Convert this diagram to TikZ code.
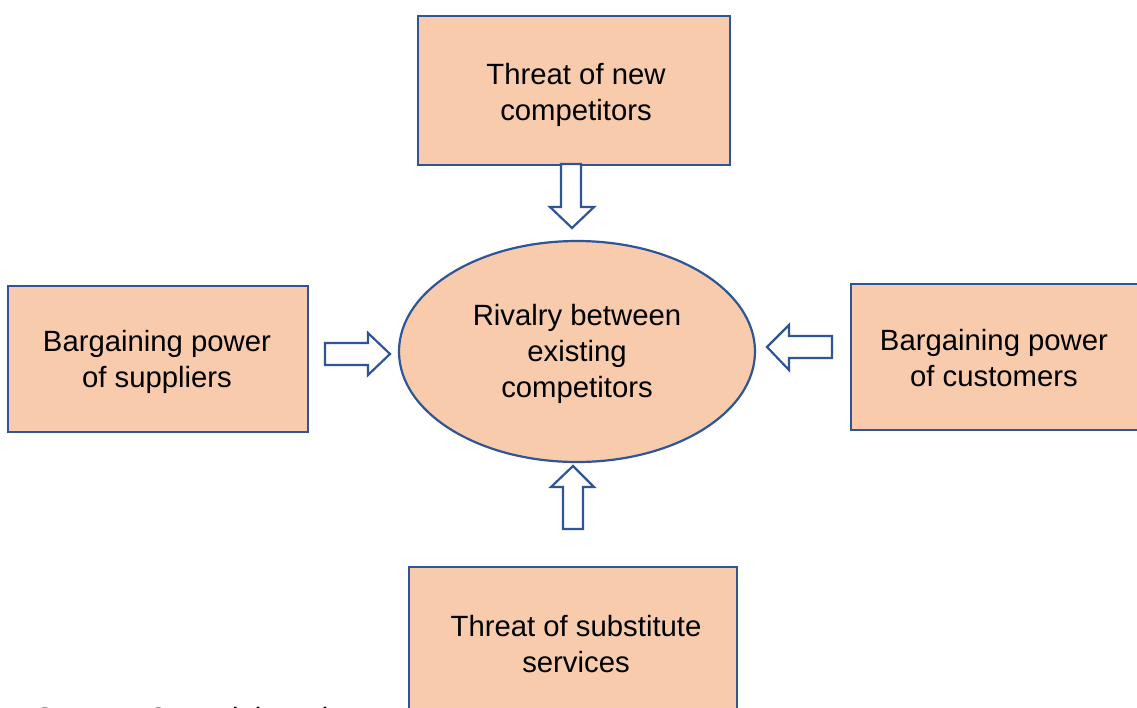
\documentclass[tikz,border=0pt]{standalone}
\usepackage{fontspec}
\setmainfont{Liberation Sans}
\usetikzlibrary{shapes.geometric}
\definecolor{forcefill}{HTML}{F8CBAD}
\definecolor{forceline}{HTML}{2F5597}
\tikzset{
  forcebox/.style={draw=forceline, fill=forcefill, line width=2.2pt, rectangle, inner sep=0pt},
  rivalry/.style={draw=forceline, fill=forcefill, line width=2.2pt, ellipse, inner sep=0pt},
  label/.style={align=center, font=\fontsize{29.3}{36}\selectfont, inner sep=0pt},
  blockarrow/.style={draw=forceline, fill=white, line width=2.2pt, line join=miter}
}
\begin{document}
\begin{tikzpicture}[x=1pt, y=-1pt]
  \useasboundingbox (0,0) rectangle (1137,707);
  \clip (0,0) rectangle (1137,707);
  \fill[white] (0,0) rectangle (1137,707);

  % the five forces
  \node[forcebox, minimum width=312pt, minimum height=149pt] (entrants) at (574,90.5) {};
  \node[forcebox, minimum width=300pt, minimum height=146pt] (suppliers) at (158,359) {};
  \node[forcebox, minimum width=300pt, minimum height=146pt] (customers) at (1001,357) {};
  \node[forcebox, minimum width=328pt, minimum height=170pt] (substitutes) at (573,652) {};
  \node[rivalry, minimum width=356pt, minimum height=221pt] (rivalry) at (577,351.5) {};

  % texts
  \node[label] (tEntrants) at (576,95) {Threat of new\\competitors};
  \node[label] (tSuppliers) at (157,362) {Bargaining power\\of suppliers};
  \node[label] (tCustomers) at (994,358) {Bargaining power\\of customers};
  \node[label] (tSubstitutes) at (576,644) {Threat of substitute\\services};
  \node[label] (tRivalry) at (577,354) {Rivalry between\\existing\\competitors};

  % block arrows pointing at the rivalry
  \draw[blockarrow] (561,164) -- (581,164) -- (581,207) -- (594,207) -- (572,228)
        -- (550,207) -- (561,207) -- cycle;
  \draw[blockarrow] (325,343) -- (368,343) -- (368,333) -- (390,354) -- (368,375)
        -- (368,365) -- (325,365) -- cycle;
  \draw[blockarrow] (832,336) -- (789,336) -- (789,325) -- (767,347) -- (789,370)
        -- (789,358) -- (832,358) -- cycle;
  \draw[blockarrow] (563,529) -- (583,529) -- (583,487) -- (594,487) -- (573,466)
        -- (551,487) -- (563,487) -- cycle;

  % source line, running off the lower edge
  \node[label, anchor=base west, font=\fontsize{29.3}{36}\selectfont\itshape] (source)
        at (33,728) {Source: Own elaboration};
\end{tikzpicture}
\end{document}
